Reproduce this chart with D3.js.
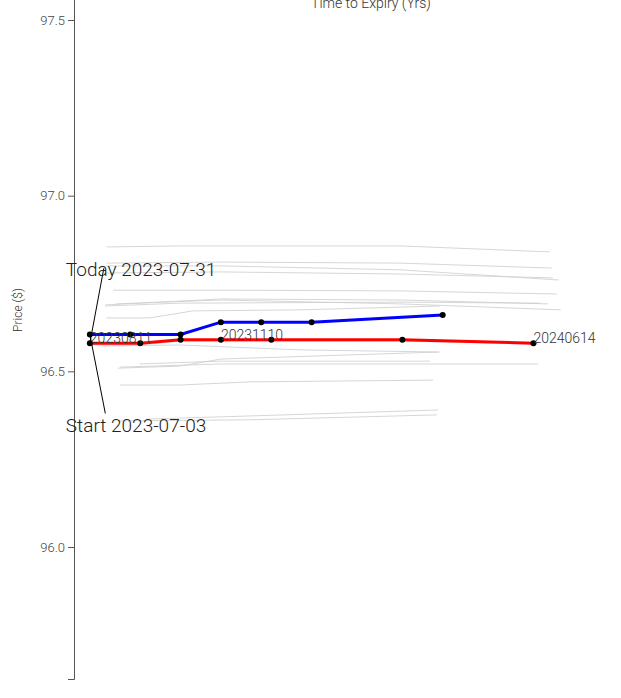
<!DOCTYPE html>
<html>
<head>
<meta charset="utf-8">
<script src="https://cdn.jsdelivr.net/npm/d3@7"></script>
<style>
  html, body { margin: 0; padding: 0; background: #fff; }
  svg { display: block; font-family: Roboto, "Noto Sans", sans-serif; }
</style>
</head>
<body>
<svg id="chart" width="621" height="698"></svg>
<script>
// ---------------- DATA ----------------
const todayDate = "2023-07-31";
const startDate = "2023-07-03";

// Today's curve (red)
const todayExpiries = ["20230811", "20230915", "20231013", "20231110", "20231215", "20240315", "20240614"];
const todayPrices   = [96.580, 96.580, 96.590, 96.590, 96.590, 96.590, 96.580];

// Start curve (blue)
const startExpiries = ["20230714", "20230811", "20230915", "20231013", "20231110", "20231215", "20240315"];
const startPrices   = [96.605, 96.605, 96.605, 96.640, 96.640, 96.640, 96.660];

// Contracts labelled on today's curve (indices)
const labelIdx = [0, 3, 6];

// Intermediate daily curves (grey): [time to expiry (yrs), price]
const hist01 = [[0.062, 96.854], [0.201, 96.857], [0.620, 96.857], [0.905, 96.840]];
const hist02 = [[0.062, 96.808], [0.280, 96.811], [0.620, 96.808], [0.909, 96.794]];
const hist03 = [[0.062, 96.800], [0.280, 96.800], [0.620, 96.789], [0.922, 96.760]];
const hist04 = [[0.062, 96.780], [0.280, 96.783], [0.620, 96.777], [0.911, 96.766]];
const hist05 = [[0.074, 96.731], [0.280, 96.731], [0.620, 96.729], [0.919, 96.720]];
const hist06 = [[0.059, 96.689], [0.201, 96.700], [0.280, 96.706], [0.620, 96.703], [0.902, 96.692]];
const hist07 = [[0.059, 96.686], [0.201, 96.694], [0.620, 96.697], [0.887, 96.694]];
const hist08 = [[0.080, 96.692], [0.280, 96.703], [0.620, 96.692], [0.926, 96.675]];
const hist09 = [[0.062, 96.652], [0.144, 96.652], [0.226, 96.672], [0.430, 96.675], [0.696, 96.686]];
const hist10 = [[0.030, 96.575], [0.125, 96.575], [0.201, 96.586], [0.620, 96.586], [0.883, 96.578]];
const hist11 = [[0.051, 96.572], [0.201, 96.575], [0.430, 96.561], [0.692, 96.555]];
const hist12 = [[0.0835, 96.509], [0.201, 96.515], [0.280, 96.535], [0.696, 96.555]];
const hist13 = [[0.087, 96.512], [0.280, 96.521], [0.620, 96.521], [0.883, 96.521]];
const hist14 = [[0.125, 96.521], [0.280, 96.529], [0.677, 96.529]];
const hist15 = [[0.087, 96.461], [0.201, 96.461], [0.335, 96.470], [0.683, 96.475]];
const hist16 = [[0.137, 96.364], [0.335, 96.373], [0.692, 96.390]];
const hist17 = [[0.087, 96.359], [0.335, 96.362], [0.690, 96.376]];
const historyCurves = [hist01, hist02, hist03, hist04, hist05, hist06, hist07, hist08, hist09,
                       hist10, hist11, hist12, hist13, hist14, hist15, hist16, hist17];

const xDomain = [0, 1.13];
const yDomain = [95.6243, 97.6907];
const yTickValues = [96.0, 96.5, 97.0, 97.5];

// ---------------- HELPERS ----------------
const parseDash = d3.timeParse("%Y-%m-%d");
const parseCompact = d3.timeParse("%Y%m%d");
const yearsBetween = (a, b) => (b - a) / (365 * 24 * 3600 * 1000);

function buildCurve(curveDate, expiries, prices) {
  const d0 = parseDash(curveDate);
  return expiries.map((e, i) => ({ label: e, t: yearsBetween(d0, parseCompact(e)), p: prices[i] }));
}
const todayCurve = buildCurve(todayDate, todayExpiries, todayPrices);
const startCurve = buildCurve(startDate, startExpiries, startPrices);

// ---------------- LAYOUT ----------------
const svg = d3.select("#chart");
const margin = { left: 74 };
const plotW = 594;
const yBottom = 679, yTop = -47;

const x = d3.scaleLinear().domain(xDomain).range([0, plotW]);
const y = d3.scaleLinear().domain(yDomain).range([yBottom, yTop]);

const g = svg.append("g").attr("transform", `translate(${margin.left},0)`);

// grey history curves
const lineArr = d3.line().x(d => x(d[0])).y(d => y(d[1]));
g.append("g").selectAll("path").data(historyCurves).join("path")
  .attr("d", lineArr)
  .attr("fill", "none")
  .attr("stroke", "#cfcfcf")
  .attr("stroke-opacity", 0.85)
  .attr("stroke-width", 1);

// y axis
const yAxis = g.append("g")
  .call(d3.axisLeft(y).tickValues(yTickValues).tickFormat(d3.format(".1f")));
yAxis.select(".domain").attr("stroke", "#555");
yAxis.selectAll(".tick line").attr("stroke", "#555");
yAxis.selectAll(".tick text")
  .attr("fill", "#444")
  .style("font-size", "13px")
  .style("font-weight", 300)
  .style("font-family", "Roboto, sans-serif");

// axis titles
svg.append("text")
  .attr("x", 371).attr("y", 8)
  .attr("text-anchor", "middle")
  .attr("fill", "#333")
  .style("font-size", "14px")
  .style("font-weight", 300)
  .text("Time to Expiry (Yrs)");

svg.append("text")
  .attr("transform", "translate(22,310) rotate(-90)")
  .attr("text-anchor", "middle")
  .attr("fill", "#333")
  .style("font-size", "12px")
  .style("font-weight", 300)
  .text("Price ($)");

// main curves
const lineObj = d3.line().x(d => x(d.t)).y(d => y(d.p));
g.append("path").datum(startCurve)
  .attr("d", lineObj).attr("fill", "none")
  .attr("stroke", "#0000ff").attr("stroke-width", 3);
g.append("path").datum(todayCurve)
  .attr("d", lineObj).attr("fill", "none")
  .attr("stroke", "#ff0000").attr("stroke-width", 3);

// dots
g.append("g").selectAll("circle").data(startCurve.concat(todayCurve)).join("circle")
  .attr("cx", d => x(d.t)).attr("cy", d => y(d.p)).attr("r", 3)
  .attr("fill", "#000");

// contract labels
g.append("g").selectAll("text").data(labelIdx.map(i => todayCurve[i])).join("text")
  .attr("x", d => x(d.t)).attr("y", d => y(d.p))
  .attr("fill", "#333")
  .style("font-size", "14px")
  .style("font-weight", 300)
  .text(d => d.label);

// annotations
const annos = [
  { pt: todayCurve[0], dx: 14, dy: -75, tx: -24, ty: 276, text: "Today " + todayDate },
  { pt: startCurve[0], dx: 15.5, dy: 79, tx: -24, ty: 432, text: "Start " + startDate }
];
annos.forEach(a => {
  const px = x(a.pt.t), py = y(a.pt.p);
  g.append("line")
    .attr("x1", px).attr("y1", py)
    .attr("x2", px + a.dx).attr("y2", py + a.dy)
    .attr("stroke", "#000").attr("stroke-width", 1);
  g.append("text")
    .attr("x", px + a.tx).attr("y", a.ty)
    .attr("fill", "#222")
    .style("font-size", "19px")
    .style("font-weight", 300)
    .text(a.text);
});
</script>
</body>
</html>
